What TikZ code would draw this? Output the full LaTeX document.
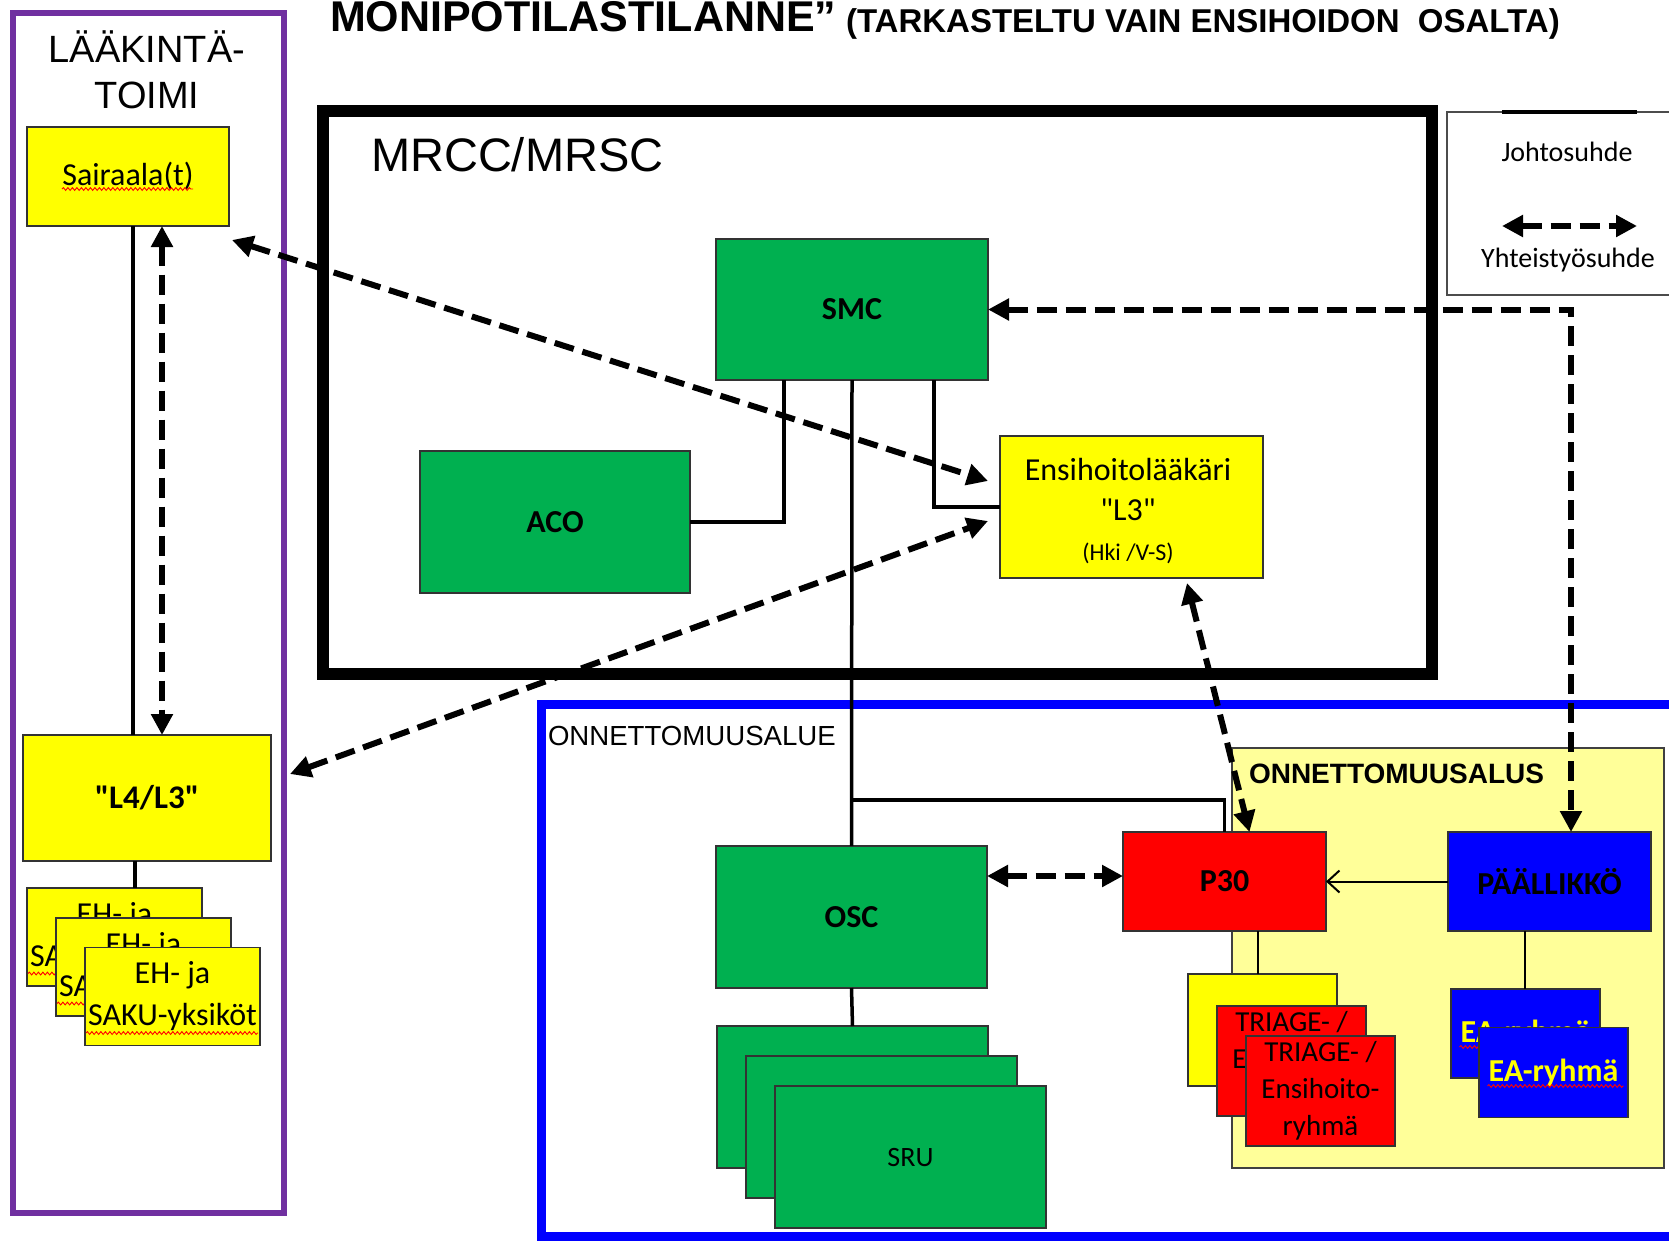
\documentclass[tikz,border=0pt]{standalone}
\usepackage{fontspec}
\setmainfont{Carlito}
\newfontfamily\cq{Carlito}
\newfontfamily\arialf{Liberation Sans}
\usetikzlibrary{arrows.meta,decorations.pathmorphing}
\definecolor{cgreen}{HTML}{00B050}
\definecolor{cyellow}{HTML}{FFFF00}
\definecolor{cred}{HTML}{FF0000}
\definecolor{cblue}{HTML}{0000FF}
\definecolor{clight}{HTML}{FFFF99}
\definecolor{cpurple}{HTML}{7030A0}
\newcommand\szreg{\fontsize{32}{40}\selectfont}
\newcommand\szbold{\bfseries\fontsize{32}{40}\selectfont}
\tikzset{
  stbox/.style={draw=black!80, line width=1.4pt, inner sep=0pt, outer sep=0pt, align=center},
  conn/.style={line width=3.5pt, black},
  thinconn/.style={line width=2pt, black},
  dasharrow/.style={line width=6pt, dash pattern=on 20pt off 9pt,
     {Triangle[length=21pt,width=21pt]}-{Triangle[length=21pt,width=21pt]}},
  wavy/.style={draw=red, line width=0.9pt, decorate, decoration={snake, amplitude=1.4pt, segment length=4.5pt}},
  plain/.style={inner sep=0pt, outer sep=0pt}
}
\begin{document}
\begin{tikzpicture}[x=1pt,y=-1pt]
\useasboundingbox (0,0) rectangle (1669,1240);
\clip (0,0) rectangle (1669,1240);
\fill[white] (0,0) rectangle (1669,1240);

% title
\node[plain, anchor=base west] (title) at (330,31) {\arialf\bfseries\fontsize{43}{50}\selectfont MONIPOTILASTILANNE”};
\node[plain, anchor=base west] (subtitle) at (846,32) {\arialf\bfseries\fontsize{33}{38}\selectfont (TARKASTELTU VAIN ENSIHOIDON\ \ OSALTA)};

% frames
\draw[cpurple, line width=6pt] (13,13) rectangle (284,1213);
\node[plain, anchor=base] (lk1) at (147,62) {\arialf\fontsize{38}{44}\selectfont LÄÄKINTÄ-};
\node[plain, anchor=base] (lk2) at (147,108) {\arialf\fontsize{38}{44}\selectfont TOIMI};

\draw[line width=12pt] (323,111) rectangle (1432,674);
\node[plain, anchor=base west] (mrcc) at (371,171) {\arialf\fontsize{47}{52}\selectfont MRCC/MRSC};

\draw[cblue, line width=9pt] (541,704) rectangle (1700,1236);
\node[plain, anchor=base west] (alue) at (548,745) {\arialf\fontsize{27.6}{30}\selectfont ONNETTOMUUSALUE};

\draw[black!75, line width=2pt, fill=clight] (1232,748) rectangle (1664,1168);
\node[plain, anchor=base west] (alus) at (1249,783) {\arialf\bfseries\fontsize{28}{30}\selectfont ONNETTOMUUSALUS};

% legend
\draw[black!70, line width=1.2pt] (1447,112) rectangle (1700,295);
\draw[line width=4pt] (1502,112) -- (1637,112);
\node (johto) at (1567,152) {\fontsize{28}{30}\selectfont Johtosuhde};
\node (yht) at (1568,260) {\fontsize{28}{30}\selectfont Yhteistyösuhde};
\coordinate (lgA) at (1502,226);
\coordinate (lgB) at (1637,226);
\draw[dasharrow] (lgA) -- (lgB);

% left column
\node[stbox, fill=cyellow, minimum width=202pt, minimum height=99pt, font=\szreg] (sair) at (128,176.5) {Sairaala(t)};
\draw[wavy] ([xshift=-66pt,yshift=-12.5pt]sair.center) -- ([xshift=65pt,yshift=-12.5pt]sair.center);
\node[stbox, fill=cyellow, minimum width=248pt, minimum height=126pt, font=\bfseries\fontsize{33}{40}\selectfont] (l4) at (147,798) {\cq "L4/L3"};

\node[stbox, fill=cyellow, minimum width=175pt, minimum height=98pt, font=\fontsize{32}{42}\selectfont] (eh1) at (114.5,937) {EH- ja\\SAKU-yksiköt};
\draw[wavy] ([xshift=-86.5pt,yshift=-36.5pt]eh1.center) -- ([xshift=85.5pt,yshift=-36.5pt]eh1.center);
\node[stbox, fill=cyellow, minimum width=175pt, minimum height=98pt, font=\fontsize{32}{42}\selectfont] (eh2) at (143.5,967) {EH- ja\\SAKU-yksiköt};
\draw[wavy] ([xshift=-86.5pt,yshift=-36.5pt]eh2.center) -- ([xshift=85.5pt,yshift=-36.5pt]eh2.center);
\node[stbox, fill=cyellow, minimum width=175pt, minimum height=98pt, font=\fontsize{32}{42}\selectfont] (eh3) at (172.5,996.5) {EH- ja\\SAKU-yksiköt};
\draw[wavy] ([xshift=-86.5pt,yshift=-36.5pt]eh3.center) -- ([xshift=85.5pt,yshift=-36.5pt]eh3.center);

% MRCC boxes
\node[stbox, fill=cgreen, minimum width=272pt, minimum height=141pt, font=\szbold] (smc) at (852,309.5) {SMC};
\node[stbox, fill=cgreen, minimum width=270pt, minimum height=142pt, font=\szbold] (aco) at (555,522) {ACO};
\node[stbox, fill=cyellow, minimum width=263pt, minimum height=142pt] (ens) at (1131.5,507) {};
\node[align=center, font=\szreg] (enstxt) at (1128,511) {Ensihoitolääkäri\\{\cq "L3"}\\{\fontsize{24}{40}\selectfont (Hki /V-S)}};

% accident area boxes
\node[stbox, fill=cgreen, minimum width=271pt, minimum height=142pt, font=\szbold] (osc) at (851.5,917) {OSC};
\node[stbox, fill=cgreen, minimum width=271pt, minimum height=142pt] (sru1) at (852.5,1097) {};
\node[stbox, fill=cgreen, minimum width=271pt, minimum height=142pt] (sru2) at (881.5,1127) {};
\node[stbox, fill=cgreen, minimum width=271pt, minimum height=142pt, font=\fontsize{28}{32}\selectfont] (sru3) at (910.5,1157) {SRU};

\node[stbox, fill=cred, minimum width=203pt, minimum height=99pt, font=\szbold] (p30) at (1224.5,881.5) {P30};
\node[stbox, fill=cblue, minimum width=203pt, minimum height=99pt, font=\szbold] (pal) at (1549.5,881.5) {PÄÄLLIKKÖ};

\node[stbox, fill=cyellow, minimum width=149pt, minimum height=112pt] (tri1) at (1262.5,1030) {};
\node[stbox, fill=cred, minimum width=149pt, minimum height=110pt, font=\fontsize{29}{37}\selectfont] (tri2) at (1291.5,1061) {TRIAGE- /\\Ensihoito-\\ryhmä};
\node[stbox, fill=cred, minimum width=149pt, minimum height=110pt, font=\fontsize{29}{37}\selectfont] (tri3) at (1320.5,1091) {TRIAGE- /\\Ensihoito-\\ryhmä};

\node[stbox, fill=cblue, minimum width=149pt, minimum height=89pt, text=cyellow, font=\szbold] (ea1) at (1525.5,1033.5) {EA-ryhmä};
\draw[wavy] ([xshift=-66pt,yshift=-13.5pt]ea1.center) -- ([xshift=70pt,yshift=-13.5pt]ea1.center);
\node[stbox, fill=cblue, minimum width=149pt, minimum height=90pt, text=cyellow, font=\szbold] (ea2) at (1553.5,1072.5) {EA-ryhmä};
\draw[wavy] ([xshift=-66pt,yshift=-13.5pt]ea2.center) -- ([xshift=70pt,yshift=-13.5pt]ea2.center);

% solid connectors
\coordinate (jn) at (852,800);
\draw[conn] (smc.south) -- (osc.north);
\draw[conn] (jn) -| (p30.north);
\draw[conn] ([xshift=-68pt]smc.south) |- (aco.east);
\draw[conn] ([xshift=82pt]smc.south) |- (ens.west);
\draw[conn] ([xshift=5pt]sair.south) -- ([xshift=5pt]sair.south |- l4.north);
\draw[conn] ([xshift=-12pt]l4.south) -- ([xshift=-12pt]l4.south |- eh1.north);
\draw[conn] (osc.south) -- (sru1.north);
\draw[thinconn] ([xshift=33.5pt]p30.south) -- ([xshift=33.5pt]p30.south |- tri1.north);
\draw[thinconn] ([xshift=-24.5pt]pal.south) -- ([xshift=-24.5pt]pal.south |- ea1.north);
\draw[thinconn, -{Straight Barb[length=12pt,width=22pt]}] (pal.west) -- (p30.east);

% dashed cooperation connectors
\draw[dasharrow] ([xshift=3pt,yshift=-14pt]sair.south east) -- ([xshift=-12pt,yshift=26pt]ens.west);
\draw[dasharrow] ([xshift=19pt,yshift=24pt]l4.east) -- ([xshift=-12pt,yshift=-14pt]ens.west);
\draw[dasharrow] ([xshift=34pt]sair.south) -- ([xshift=34pt]sair.south |- l4.north);
\draw[dasharrow] ([xshift=55.5pt,yshift=-5pt]ens.south) -- ([xshift=25pt]p30.north);
\draw[dasharrow] (smc.east) -| ([xshift=21.5pt]pal.north);
\draw[dasharrow] ([yshift=41pt]osc.east) -- ([yshift=41pt]osc.east -| p30.west);
\end{tikzpicture}
\end{document}
